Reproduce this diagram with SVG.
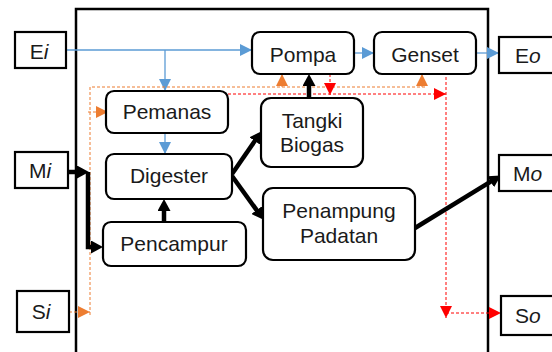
<svg xmlns="http://www.w3.org/2000/svg" width="552" height="352" viewBox="0 0 552 352">
<defs>
<style>
.node rect{fill:#fff;stroke:#000;stroke-width:2.2}
text{font-family:"Liberation Sans",Arial,sans-serif;font-size:21px;fill:#1a1a1a;text-anchor:middle}
.io text{text-anchor:start}
.blk{stroke:#000;stroke-width:4.5;fill:none}
.blu{stroke:#5B9BD5;stroke-width:1.3;fill:none}
.org{stroke:#ED7D31;stroke-width:1;fill:none;stroke-dasharray:3 2}
.red{stroke:#FF0000;stroke-width:1;fill:none;stroke-dasharray:3 2}
</style>
<marker id="ab" markerUnits="userSpaceOnUse" markerWidth="13" markerHeight="13" refX="1" refY="6.5" orient="auto"><path d="M0,0 L12,6.5 L0,13 z" fill="#000"/></marker>
<marker id="au" markerUnits="userSpaceOnUse" markerWidth="12" markerHeight="12" refX="12" refY="6" orient="auto"><path d="M0,0 L12,6 L0,12 z" fill="#5B9BD5"/></marker>
<marker id="ao" markerUnits="userSpaceOnUse" markerWidth="12" markerHeight="12" refX="12" refY="6" orient="auto"><path d="M0,0 L12,6 L0,12 z" fill="#ED7D31"/></marker>
<marker id="ar" markerUnits="userSpaceOnUse" markerWidth="12" markerHeight="12" refX="12" refY="6" orient="auto"><path d="M0,0 L12,6 L0,12 z" fill="#FF0000"/></marker>
</defs>
<rect x="0" y="0" width="552" height="352" fill="#fff"/>
<rect id="frame" x="76" y="9" width="412" height="360" fill="none" stroke="#000" stroke-width="2.5"/>

<g id="connectors">
<path class="blu" d="M66,50 H252" marker-end="url(#au)"/>
<path class="blu" d="M165,50 V91" marker-end="url(#au)"/>
<path class="blu" d="M165,133 V154" marker-end="url(#au)"/>
<path class="blu" d="M354,53 H374" marker-end="url(#au)"/>
<path class="blu" d="M476,53 H499" marker-end="url(#au)"/>
<path class="org" d="M69,312 H90" marker-end="url(#ao)"/>
<path class="org" d="M90,315 V87 H425"/>
<path class="org" d="M282,87 V74" marker-end="url(#ao)"/>
<path class="org" d="M422,87 V74" marker-end="url(#ao)"/>
<path class="org" d="M88,112 H108" marker-end="url(#ao)"/>
<path class="red" d="M228,94 H446" marker-end="url(#ar)"/>
<path class="red" d="M330,74 V95" marker-end="url(#ar)"/>
<path class="red" d="M446,77 V318" marker-end="url(#ar)"/>
<path class="red" d="M446,313 H501" marker-end="url(#ar)"/>
<path class="blk" d="M68,172 H78" marker-end="url(#ab)"/>
<path class="blk" d="M88,172 V247 H92" marker-end="url(#ab)"/>
<path class="blk" d="M164,222 V210" marker-end="url(#ab)"/>
<path class="blk" d="M232,174 L255.3,140.2" marker-end="url(#ab)"/>
<path class="blk" d="M232,176 L257.2,210.9" marker-end="url(#ab)"/>
<path class="blk" d="M309,98 V85" marker-end="url(#ab)"/>
<path class="blk" d="M415,228 L491.5,181.2" marker-end="url(#ab)"/>
</g>

<g id="Ei" class="node"><rect x="15" y="32" width="51" height="36"/><text x="39" y="59">E<tspan font-style="italic">i</tspan></text></g>
<g id="Mi" class="node"><rect x="15" y="152" width="53" height="36"/><text x="40" y="178">M<tspan font-style="italic">i</tspan></text></g>
<g id="Si" class="node"><rect x="17" y="291" width="52" height="41"/><text x="41" y="319">S<tspan font-style="italic">i</tspan></text></g>
<g id="Eo" class="node io"><rect x="499" y="37" width="70" height="36"/><text x="515" y="63">E<tspan font-style="italic">o</tspan></text></g>
<g id="Mo" class="node io"><rect x="499" y="155" width="70" height="36"/><text x="513" y="181">M<tspan font-style="italic">o</tspan></text></g>
<g id="So" class="node io"><rect x="501" y="296" width="70" height="39"/><text x="515" y="323">S<tspan font-style="italic">o</tspan></text></g>

<g id="Pompa" class="node"><rect x="252" y="32" width="102" height="42" rx="8"/><text x="303" y="62">Pompa</text></g>
<g id="Genset" class="node"><rect x="374" y="32" width="102" height="42" rx="8"/><text x="425" y="62">Genset</text></g>
<g id="Pemanas" class="node"><rect x="106" y="91" width="122" height="42" rx="8"/><text x="167" y="119">Pemanas</text></g>
<g id="Digester" class="node"><rect x="106" y="154" width="126" height="45" rx="8"/><text x="169" y="183">Digester</text></g>
<g id="Pencampur" class="node"><rect x="103" y="222" width="143" height="44" rx="8"/><text x="174" y="251">Pencampur</text></g>
<g id="TangkiBiogas" class="node"><rect x="261" y="98" width="102" height="69" rx="10"/><text x="312" y="128">Tangki</text><text x="312" y="152">Biogas</text></g>
<g id="PenampungPadatan" class="node"><rect x="263" y="188" width="152" height="72" rx="10"/><text x="339" y="218">Penampung</text><text x="339" y="243">Padatan</text></g>
</svg>
